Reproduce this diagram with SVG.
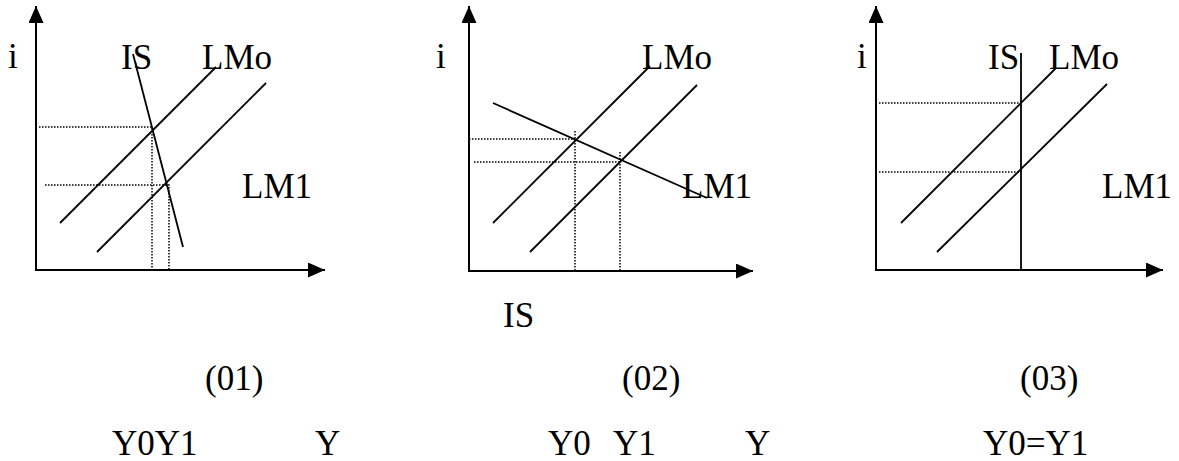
<svg xmlns="http://www.w3.org/2000/svg" width="1179" height="461" viewBox="0 0 1179 461">
<style>
.ax{stroke:#000;stroke-width:2;fill:none}
.cv{stroke:#000;stroke-width:1.8;fill:none}
.dt{stroke:#000;stroke-width:1.5;stroke-dasharray:1.5 1.5;fill:none}
text{font-family:"Liberation Serif","Times New Roman",serif;font-size:35px;fill:#000}
</style>
<defs>
<marker id="arr" markerUnits="userSpaceOnUse" markerWidth="18" markerHeight="16" refX="17" refY="7.5" orient="auto">
<path d="M0,0 L17,7.5 L0,15 z" fill="#000"/>
</marker>
</defs>
<g id="panel1">
<line class="ax" x1="36" y1="270" x2="36" y2="6" marker-end="url(#arr)"/>
<line class="ax" x1="35" y1="270" x2="325" y2="270" marker-end="url(#arr)"/>
<line class="cv" x1="60" y1="223" x2="216" y2="67"/>
<line class="cv" x1="97" y1="252" x2="266" y2="83"/>
<line class="cv" x1="133" y1="54" x2="183" y2="247"/>
<polyline class="dt" points="39,127 152,127 152,270"/>
<polyline class="dt" points="45,185 169,185 169,270"/>
<text x="8" y="68">i</text>
<text x="121" y="69">IS</text>
<text x="202" y="69">LMo</text>
<text x="242" y="198">LM1</text>
<text x="205" y="390">(01)</text>
<text x="112" y="455">Y0Y1</text>
<text x="315" y="455">Y</text>
</g>
<g id="panel2">
<line class="ax" x1="469" y1="271" x2="469" y2="6" marker-end="url(#arr)"/>
<line class="ax" x1="468" y1="271" x2="753" y2="271" marker-end="url(#arr)"/>
<line class="cv" x1="493" y1="223" x2="650" y2="66"/>
<line class="cv" x1="530" y1="252" x2="697" y2="85"/>
<line class="cv" x1="493" y1="103" x2="707" y2="198"/>
<line class="dt" x1="469" y1="139" x2="575" y2="139"/>
<line class="dt" x1="575" y1="131" x2="575" y2="271"/>
<line class="dt" x1="474" y1="162" x2="620" y2="162"/>
<line class="dt" x1="620" y1="152" x2="620" y2="271"/>
<text x="436" y="68">i</text>
<text x="642" y="69">LMo</text>
<text x="682" y="198">LM1</text>
<text x="503" y="327">IS</text>
<text x="622" y="390">(02)</text>
<text x="548" y="455">Y0</text>
<text x="613" y="455">Y1</text>
<text x="745" y="455">Y</text>
</g>
<g id="panel3">
<line class="ax" x1="876" y1="270" x2="876" y2="6" marker-end="url(#arr)"/>
<line class="ax" x1="875" y1="270" x2="1163" y2="270" marker-end="url(#arr)"/>
<line class="cv" x1="901" y1="223" x2="1056" y2="68"/>
<line class="cv" x1="937" y1="252" x2="1107" y2="84"/>
<line class="cv" x1="1021" y1="53" x2="1021" y2="270"/>
<line class="dt" x1="879" y1="103" x2="1021" y2="103"/>
<line class="dt" x1="879" y1="172" x2="1021" y2="172"/>
<text x="857" y="68">i</text>
<text x="988" y="69">IS</text>
<text x="1049" y="69">LMo</text>
<text x="1102" y="198">LM1</text>
<text x="1020" y="390">(03)</text>
<text x="983" y="455">Y0=Y1</text>
</g>
</svg>
